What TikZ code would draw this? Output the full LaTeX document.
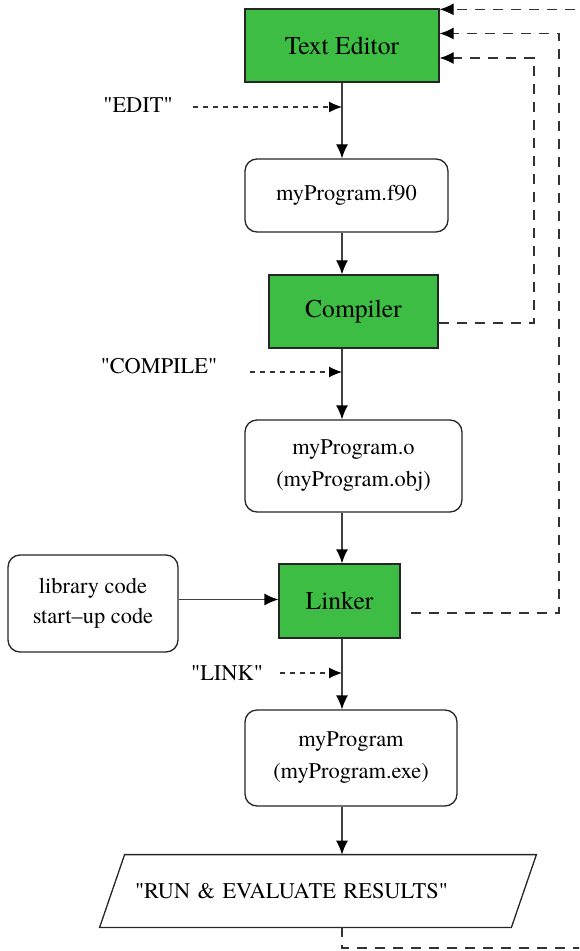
\documentclass[tikz,border=0pt]{standalone}
\usepackage{fontspec}
\setmainfont{TeX Gyre Termes}
\usepackage{tikz}
\usetikzlibrary{calc}
\usetikzlibrary{arrows.meta}

\definecolor{stagegreen}{RGB}{62,189,69}

\begin{document}
\begin{tikzpicture}[x=0.5pt, y=-0.5pt]
  \tikzset{
    stage/.style={draw=black!85, fill=stagegreen, rectangle, line width=0.65pt, inner sep=0pt, font=\fontsize{12.8}{15}\selectfont},
    file/.style={draw=black!85, fill=white, rectangle, rounded corners=6pt, line width=0.65pt, inner sep=0pt, align=center, font=\fontsize{11.2}{16}\selectfont},
    hint/.style={inner sep=0pt, font=\fontsize{11.2}{13}\selectfont},
    line/.style={draw=black!75, line width=0.65pt, -{Latex[length=7pt,width=6pt,color=black]}},
    input/.style={draw=black!80, line width=0.55pt, dash pattern=on 2.5pt off 2.5pt, -{Latex[length=6.5pt,width=5.5pt,color=black]}},
    feedback/.style={draw=black!80, line width=0.65pt, dash pattern=on 5pt off 4pt, -{Latex[length=7pt,width=6pt,color=black]}},
  }
  \useasboundingbox (0,0) rectangle (579,951);
  \clip (0,0) rectangle (579,951);

  % main column
  \node [stage, minimum width=97pt, minimum height=36.5pt] (editor) at (342,45.5) {Text Editor};
  \node [file, minimum width=101.5pt, minimum height=36.5pt] (src) at (346.5,195.5) {myProgram.f90};
  \node [stage, minimum width=84.5pt, minimum height=36.5pt] (compiler) at (353.5,311.5) {Compiler};
  \node [file, minimum width=108.5pt, minimum height=46pt] (obj) at (353.5,466) {myProgram.o\\(myProgram.obj)};
  \node [stage, minimum width=60.5pt, minimum height=37pt] (linker) at (339.5,601) {Linker};
  \node [file, minimum width=85pt, minimum height=48.5pt, font=\fontsize{11.2}{15}\selectfont] (lib) at (93,603.5) {library code\\start--up code};
  \node [file, minimum width=106pt, minimum height=48pt] (exe) at (351,758) {myProgram\\(myProgram.exe)};
  \node [hint, minimum width=205.5pt, minimum height=36pt, text width=183pt, align=left] (run) at (318,891) {\textquotedbl RUN \& EVALUATE RESULTS\textquotedbl};
  \draw [black!85, line width=0.65pt]
    ($(run.south west)+(-12.5,0)$) -- ($(run.north west)+(12.5,0)$) --
    ($(run.north east)+(12.5,0)$) -- ($(run.south east)+(-12.5,0)$) -- cycle;

  % commands
  \node [hint] (edit) at (138,105) {\textquotedbl EDIT\textquotedbl};
  \node [hint] (compile) at (159,366) {\textquotedbl COMPILE\textquotedbl};
  \node [hint] (link) at (227,673) {\textquotedbl LINK\textquotedbl};

  % loop columns
  \coordinate (loopA) at (534,0);
  \coordinate (loopB) at (559,0);
  \coordinate (loopC) at (600,951);
  \coordinate (edA) at ([yshift=-6.25pt]editor.east);
  \coordinate (edB) at ([yshift=6pt]editor.east);
  \coordinate (edC) at ([yshift=-0.5pt]editor.north east);

  \path [line] (editor.south) -- (editor.south |- src.north);
  \path [line] (editor.south |- src.south) -- (editor.south |- compiler.north);
  \path [line] (editor.south |- compiler.south) -- (editor.south |- obj.north);
  \path [line] (editor.south |- obj.south) -- (editor.south |- linker.north);
  \path [line] (editor.south |- linker.south) -- (editor.south |- exe.north);
  \path [line] (editor.south |- exe.south) -- (editor.south |- run.north);
  \path [line] ([yshift=2pt]lib.east) -- ([yshift=2pt]lib.east -| linker.west);

  \path [input] ([xshift=10pt,yshift=-1pt]edit.east) -- ([yshift=-1pt]edit.east -| editor.south);
  \path [input] ([xshift=16pt,yshift=-3pt]compile.east) -- ([yshift=-3pt]compile.east -| editor.south);
  \path [input] ([xshift=8.5pt]link.east) -- (link.east -| editor.south);

  \path [feedback] ([yshift=-5.75pt]compiler.east) -| (loopA |- edA) -- (edA);
  \path [feedback] ([xshift=5pt,yshift=-6pt]linker.east) -| (loopB |- edB) -- (edB);
  \path [feedback] (editor.south |- run.south) |- ([yshift=1.5pt]loopC) -- (loopC |- edC) -- (edC);
\end{tikzpicture}
\end{document}
